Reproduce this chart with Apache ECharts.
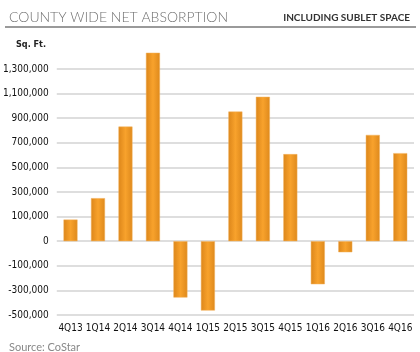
<!DOCTYPE html>
<html>
<head>
<meta charset="utf-8">
<script src="https://cdn.jsdelivr.net/npm/echarts@6/dist/echarts.min.js"></script>
<style>
  html, body { margin: 0; padding: 0; background: #fff; }
  #chart { width: 420px; height: 352px; }
</style>
</head>
<body>
<div id="chart"></div>
<script>
// quarters on the x axis
const quarters = ['4Q13', '1Q14', '2Q14', '3Q14', '4Q14', '1Q15', '2Q15', '3Q15', '4Q15', '1Q16', '2Q16', '3Q16', '4Q16'];
// net absorption, sq. ft. (one gridline = 200,000)
const absorption = [176000, 350000, 932000, 1532000, -458000, -564000, 1054000, 1174000, 708000, -350000, -90000, 864000, 716000];
// tick labels as printed on the original, bottom to top
const yTickLabels = ['-500,000', '-300,000', '-100,000', '0', '100,000', '300,000', '500,000', '700,000', '900,000', '1,100,000', '1,300,000'];
const yMin = -600000;
const yStep = 200000;

const chart = echarts.init(document.getElementById('chart'));

const narrow = '"DejaVu Sans Condensed", "DejaVu Sans", sans-serif';

const barColor = new echarts.graphic.LinearGradient(0, 0, 1, 0, [
  { offset: 0, color: '#dc861a' },
  { offset: 0.5, color: '#f8a22c' },
  { offset: 1, color: '#de891c' }
]);

const option = {
  animation: false,
  title: [
    {
      text: 'COUNTY WIDE NET ABSORPTION',
      left: 4,
      top: 5,
      textStyle: { fontFamily: 'Lato', fontSize: 14, fontWeight: 300, color: '#6f6f6f' }
    },
    {
      text: 'INCLUDING SUBLET SPACE',
      right: 5,
      top: 8,
      textStyle: { fontFamily: 'Lato', fontSize: 10, fontWeight: 'bold', color: '#333' }
    },
    {
      text: 'Sq. Ft.',
      left: 11,
      top: 35,
      textStyle: { fontFamily: narrow, fontSize: 9, fontWeight: 'bold', color: '#222' }
    },
    {
      text: 'Source: CoStar',
      left: 4,
      top: 337,
      textStyle: { fontFamily: 'Lato', fontSize: 11, fontWeight: 'normal', color: '#888' }
    }
  ],
  graphic: [
    {
      type: 'line',
      shape: { x1: 5, y1: 27, x2: 416, y2: 27 },
      style: { stroke: '#9a9a9a', lineWidth: 2 }
    }
  ],
  grid: {
    left: 55,
    right: 6,
    top: 69,
    bottom: 37
  },
  xAxis: {
    type: 'category',
    data: quarters,
    axisLine: { show: false },
    axisTick: { show: false },
    axisLabel: {
      interval: 0,
      margin: 8,
      fontFamily: narrow,
      fontSize: 10,
      color: '#111'
    }
  },
  yAxis: {
    type: 'value',
    min: yMin,
    max: yMin + yStep * (yTickLabels.length - 1),
    interval: yStep,
    axisLine: { show: false },
    axisTick: { show: false },
    axisLabel: {
      margin: 8,
      fontFamily: narrow,
      fontSize: 10,
      color: '#111',
      formatter: (v) => yTickLabels[Math.round((v - yMin) / yStep)]
    },
    splitLine: { lineStyle: { color: '#dedede', width: 2 } }
  },
  series: [
    {
      type: 'bar',
      data: absorption,
      barWidth: 14,
      clip: false,
      itemStyle: { color: barColor, borderColor: '#f3b25e', borderWidth: 0.5 }
    }
  ]
};

chart.setOption(option);
</script>
</body>
</html>
